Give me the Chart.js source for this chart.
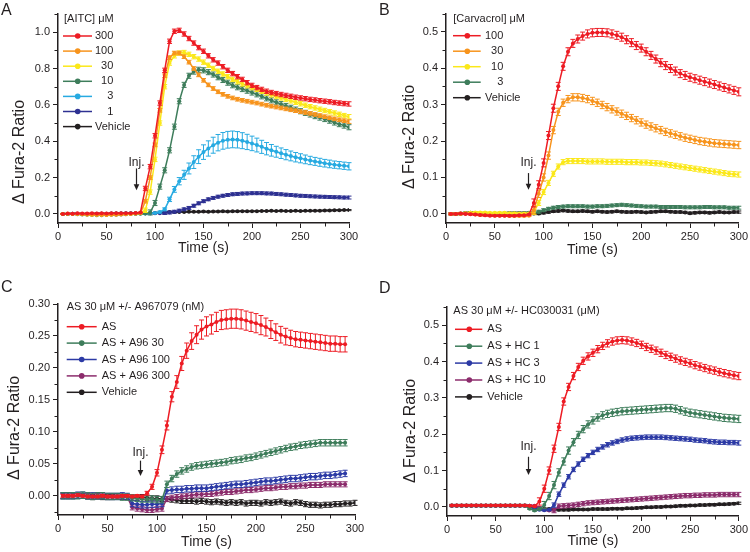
<!DOCTYPE html>
<html lang="en">
<head>
<meta charset="UTF-8">
<title>Fura-2 calcium responses</title>
<script src="https://cdn.jsdelivr.net/npm/chart.js"></script>
<style>
  body { margin: 0; background: #fff; }
  #wrap { position: relative; width: 750px; height: 552px; overflow: hidden; }
  .panel { position: absolute; width: 375px; height: 276px; }
  .letter { position: absolute; font: 16px Arial, "Liberation Sans", sans-serif; line-height: 16px; color: #231f20; }
</style>
</head>
<body>
<div id="wrap">
  <canvas class="panel" id="chartA" width="375" height="276" style="left:0;top:0"></canvas>
  <canvas class="panel" id="chartB" width="375" height="276" style="left:375px;top:0"></canvas>
  <canvas class="panel" id="chartC" width="375" height="276" style="left:0;top:276px"></canvas>
  <canvas class="panel" id="chartD" width="375" height="276" style="left:375px;top:276px"></canvas>
  <div class="letter" style="left:1px;top:1.5px">A</div>
  <div class="letter" style="left:379px;top:1.5px">B</div>
  <div class="letter" style="left:1px;top:278.5px">C</div>
  <div class="letter" style="left:379px;top:279.5px">D</div>
</div>

<script>
// sample times (s)
const times = [5,10,15,20,25,30,35,40,45,50,
  55,60,65,70,75,80,85,90,95,100,
  105,110,115,120,125,130,135,140,145,150,
  155,160,165,170,175,180,185,190,195,200,
  205,210,215,220,225,230,235,240,245,250,
  255,260,265,270,275,280,285,290,295,300];
const xTicks = [0, 50, 100, 150, 200, 250, 300];

// ---- Panel A: AITC (uM)
const aLabels = ['300', '100', '  30', '  10', '    3', '    1', 'Vehicle'];
const aYTicks = [0.0, 0.2, 0.4, 0.6, 0.8, 1.0];
const aitc300 = [0,0.002,0.001,0.003,0.002,0.002,0.003,0.002,0.003,0.002,
  0.003,0.004,0.003,0.004,0.004,0.005,0.008,0.14,0.26,0.43,
  0.61,0.79,0.95,1.005,1.01,0.99,0.965,0.94,0.915,0.895,
  0.87,0.848,0.83,0.81,0.79,0.772,0.755,0.74,0.722,0.707,
  0.695,0.685,0.675,0.668,0.662,0.657,0.652,0.647,0.642,0.638,
  0.634,0.63,0.627,0.623,0.62,0.617,0.613,0.61,0.607,0.605];
const aitc100 = [0,0.001,0,-0.001,-0.002,-0.003,-0.004,-0.005,-0.006,-0.006,
  -0.005,-0.004,-0.003,-0.002,0,0.002,0.004,0.07,0.2,0.38,
  0.57,0.76,0.86,0.885,0.885,0.865,0.835,0.8,0.765,0.735,
  0.71,0.69,0.672,0.658,0.647,0.638,0.631,0.625,0.62,0.615,
  0.61,0.604,0.598,0.593,0.588,0.583,0.578,0.573,0.568,0.563,
  0.558,0.553,0.547,0.541,0.535,0.529,0.523,0.518,0.513,0.508];
const aitc30 = [0,0.001,0,0,-0.002,-0.003,-0.004,-0.005,-0.005,-0.004,
  -0.003,-0.002,-0.001,0,0.001,0.002,0.003,0.02,0.12,0.3,
  0.5,0.7,0.83,0.87,0.885,0.888,0.878,0.865,0.852,0.835,
  0.818,0.8,0.785,0.77,0.755,0.74,0.727,0.715,0.705,0.695,
  0.685,0.675,0.665,0.655,0.646,0.638,0.63,0.622,0.614,0.606,
  0.598,0.59,0.583,0.576,0.569,0.562,0.555,0.548,0.541,0.535];
const aitc10 = [0,0,-0.001,-0.002,-0.003,-0.005,-0.006,-0.007,-0.007,-0.006,
  -0.005,-0.004,-0.003,-0.002,-0.001,0,0.001,0.002,0.008,0.06,
  0.15,0.24,0.35,0.48,0.62,0.71,0.76,0.783,0.793,0.79,
  0.78,0.767,0.752,0.737,0.722,0.708,0.697,0.687,0.678,0.668,
  0.658,0.647,0.636,0.625,0.614,0.604,0.594,0.584,0.574,0.565,
  0.556,0.547,0.538,0.53,0.522,0.513,0.503,0.494,0.486,0.477];
const aitc3 = [0,0,0,0.001,0,-0.001,-0.002,-0.002,-0.002,-0.001,
  0,0,0.001,0.001,0.002,0.002,0.002,0.002,0.003,0.005,
  0.01,0.025,0.08,0.135,0.18,0.215,0.25,0.285,0.315,0.34,
  0.36,0.378,0.392,0.402,0.408,0.41,0.408,0.403,0.396,0.388,
  0.379,0.369,0.359,0.35,0.342,0.334,0.326,0.319,0.312,0.306,
  0.3,0.294,0.289,0.284,0.279,0.275,0.271,0.268,0.265,0.262];
const aitc3Err = [0.002,0.002,0.002,0.002,0.002,0.002,0.002,0.002,0.002,0.002,
  0.002,0.002,0.002,0.002,0.002,0.002,0.002,0.002,0.003,0.003,
  0.005,0.008,0.012,0.016,0.02,0.025,0.03,0.035,0.038,0.04,
  0.042,0.044,0.045,0.046,0.046,0.046,0.045,0.044,0.042,0.04,
  0.038,0.036,0.034,0.032,0.03,0.029,0.028,0.027,0.026,0.025,
  0.024,0.023,0.022,0.022,0.021,0.021,0.02,0.02,0.02,0.02];
const aitc1 = [0,0,0.001,0,-0.001,-0.001,0,0,0.001,0.001,
  0.002,0.002,0.002,0.003,0.003,0.003,0.003,0.003,0.003,0.004,
  0.004,0.005,0.008,0.012,0.018,0.025,0.033,0.045,0.058,0.07,
  0.08,0.088,0.095,0.1,0.104,0.108,0.11,0.112,0.113,0.114,
  0.114,0.114,0.113,0.112,0.11,0.108,0.106,0.104,0.102,0.1,
  0.099,0.097,0.096,0.095,0.094,0.093,0.092,0.091,0.09,0.09];
const aitcVeh = [0,0,0.001,0,0,-0.001,0,0.001,0.001,0,
  0.001,0.002,0.002,0.002,0.002,0.003,0.003,0.003,0.004,0.005,
  0.007,0.009,0.01,0.01,0.011,0.011,0.012,0.012,0.012,0.013,
  0.012,0.013,0.013,0.014,0.013,0.014,0.014,0.015,0.014,0.015,
  0.015,0.016,0.016,0.017,0.016,0.017,0.016,0.016,0.017,0.016,
  0.017,0.017,0.018,0.018,0.019,0.019,0.02,0.02,0.021,0.021];

// ---- Panel B: carvacrol (uM)
const bLabels = ['100', '  30', '  10', '    3', 'Vehicle'];
const bYTicks = [0.0, 0.1, 0.2, 0.3, 0.4, 0.5];
const carv100 = [0,0,0.001,0,-0.001,-0.002,-0.003,-0.004,-0.005,-0.005,
  -0.005,-0.005,-0.005,-0.005,-0.004,-0.004,-0.002,0.03,0.08,0.14,
  0.215,0.29,0.35,0.405,0.445,0.468,0.48,0.488,0.494,0.497,
  0.498,0.498,0.497,0.494,0.49,0.485,0.478,0.47,0.462,0.455,
  0.445,0.435,0.425,0.415,0.407,0.399,0.392,0.385,0.38,0.375,
  0.371,0.367,0.363,0.359,0.355,0.351,0.347,0.343,0.339,0.335];
const carv30 = [0,0,0,0.001,0,-0.002,-0.003,-0.004,-0.004,-0.005,
  -0.005,-0.005,-0.006,-0.006,-0.006,-0.006,-0.005,0.01,0.055,0.1,
  0.16,0.23,0.28,0.305,0.315,0.32,0.32,0.318,0.315,0.31,
  0.305,0.299,0.293,0.287,0.281,0.275,0.269,0.263,0.257,0.251,
  0.245,0.24,0.235,0.23,0.225,0.221,0.217,0.213,0.209,0.206,
  0.203,0.2,0.198,0.196,0.194,0.193,0.192,0.191,0.19,0.189];
const carv10 = [0,0,0.001,0.002,0.003,0.004,0.004,0.004,0.003,0.003,
  0.003,0.003,0.002,0.002,0.001,0.001,0.001,0.005,0.03,0.06,
  0.085,0.11,0.13,0.142,0.145,0.145,0.145,0.145,0.144,0.144,
  0.144,0.144,0.143,0.143,0.143,0.143,0.142,0.142,0.142,0.141,
  0.141,0.14,0.139,0.138,0.136,0.134,0.132,0.13,0.128,0.126,
  0.124,0.122,0.12,0.118,0.116,0.114,0.112,0.11,0.109,0.108];
const carv3 = [0,0,0,0.001,0.001,0,0,0,0.001,0.001,
  0.001,0.002,0.002,0.002,0.002,0.002,0.003,0.003,0.006,0.01,
  0.014,0.017,0.019,0.02,0.021,0.021,0.021,0.021,0.02,0.02,
  0.021,0.021,0.022,0.023,0.024,0.025,0.024,0.023,0.022,0.021,
  0.02,0.02,0.02,0.019,0.019,0.019,0.019,0.019,0.018,0.018,
  0.018,0.018,0.019,0.019,0.018,0.018,0.018,0.017,0.017,0.017];
const carvVeh = [0,0,0.001,0.002,0.003,0.002,0.001,0.001,0,0,
  0.001,0.001,0.002,0.002,0.002,0.002,0.002,0.001,0.001,0.003,
  0.005,0.007,0.008,0.009,0.008,0.007,0.007,0.008,0.007,0.006,
  0.007,0.006,0.005,0.006,0.007,0.006,0.005,0.005,0.006,0.005,
  0.004,0.005,0.006,0.007,0.007,0.006,0.005,0.005,0.004,0.002,
  0.003,0.004,0.004,0.003,0.004,0.005,0.004,0.004,0.005,0.005];

// ---- Panel C: AS 30 uM +/- A967079 (nM)
const cLabels = ['AS', 'AS + A96 30', 'AS + A96 100', 'AS + A96 300', 'Vehicle'];
const cYTicks = [0.00, 0.05, 0.10, 0.15, 0.20, 0.25, 0.30];
const cAS = [0,0,0,0.001,0,-0.001,-0.001,-0.001,0,-0.001,
  -0.001,-0.001,0,0,-0.001,0,-0.001,0.004,0.014,0.036,
  0.072,0.11,0.155,0.178,0.207,0.227,0.242,0.252,0.26,0.265,
  0.268,0.272,0.275,0.276,0.277,0.277,0.276,0.274,0.272,0.27,
  0.267,0.264,0.26,0.256,0.252,0.249,0.247,0.245,0.244,0.243,
  0.242,0.241,0.24,0.239,0.238,0.238,0.237,0.237,null,null];
const cASErr = [0.002,0.002,0.002,0.002,0.002,0.002,0.002,0.002,0.002,0.002,
  0.002,0.002,0.002,0.002,0.002,0.002,0.002,0.003,0.004,0.005,
  0.006,0.007,0.008,0.01,0.011,0.012,0.013,0.014,0.015,0.015,
  0.015,0.015,0.015,0.015,0.015,0.015,0.015,0.015,0.015,0.015,
  0.015,0.014,0.014,0.013,0.013,0.013,0.012,0.012,0.012,0.012,
  0.012,0.012,0.012,0.012,0.012,0.012,0.012,0.012,null,null];
const cA96_30 = [0,0,0,0,0.001,0,-0.001,0,0,-0.001,
  -0.001,-0.001,-0.002,-0.002,-0.003,-0.004,-0.005,-0.005,-0.005,-0.006,
  -0.006,0.018,0.027,0.034,0.039,0.042,0.045,0.047,0.048,0.049,
  0.05,0.051,0.052,0.053,0.055,0.056,0.057,0.059,0.06,0.062,
  0.064,0.066,0.068,0.07,0.072,0.074,0.076,0.077,0.079,0.08,
  0.081,0.082,0.083,0.083,0.083,0.083,0.083,0.083,null,null];
const cA96_100 = [0,0,0,0.001,0.001,0,0,0,0,-0.001,
  -0.001,-0.001,0,-0.001,-0.012,-0.013,-0.014,-0.014,-0.013,-0.013,
  -0.012,0.008,0.009,0.01,0.01,0.011,0.011,0.012,0.012,0.012,
  0.013,0.014,0.015,0.016,0.017,0.018,0.018,0.019,0.02,0.021,
  0.022,0.023,0.023,0.024,0.025,0.026,0.027,0.027,0.028,0.029,
  0.03,0.03,0.031,0.032,0.032,0.033,0.034,0.035,null,null];
const cA96_300 = [0,0,0,0,0,0,-0.001,0,0,-0.001,
  -0.001,-0.001,-0.001,-0.002,-0.018,-0.02,-0.021,-0.022,-0.022,-0.021,
  -0.02,-0.005,-0.003,-0.002,-0.001,0,0.001,0.002,0.002,0.003,
  0.003,0.004,0.005,0.006,0.006,0.007,0.008,0.009,0.009,0.01,
  0.011,0.012,0.012,0.013,0.014,0.014,0.015,0.015,0.016,0.016,
  0.017,0.017,0.017,0.018,0.018,0.018,0.018,0.018,null,null];
const cVeh = [0,0.001,0,0,0,-0.001,-0.002,-0.001,-0.002,-0.002,
  -0.002,-0.001,-0.002,-0.002,-0.003,-0.003,-0.002,-0.003,-0.004,-0.004,
  -0.005,-0.005,-0.006,-0.007,-0.008,-0.008,-0.008,-0.009,-0.008,-0.009,
  -0.01,-0.009,-0.01,-0.011,-0.01,-0.011,-0.01,-0.012,-0.011,-0.011,
  -0.012,-0.01,-0.011,-0.01,-0.009,-0.011,-0.012,-0.01,-0.011,-0.013,
  -0.014,-0.014,-0.015,-0.014,-0.014,-0.013,-0.013,-0.012,-0.012,-0.011];

// ---- Panel D: AS 30 uM +/- HC030031 (uM)
const dLabels = ['AS', 'AS + HC 1', 'AS + HC 3', 'AS + HC 10', 'Vehicle'];
const dYTicks = [0.0, 0.1, 0.2, 0.3, 0.4, 0.5];
const dAS = [0.004,0.004,0.004,0.004,0.004,0.004,0.004,0.004,0.004,0.004,
  0.004,0.004,0.004,0.004,0.004,0.004,0.003,0.002,0.015,0.05,
  0.1,0.16,0.22,0.29,0.33,0.36,0.385,0.402,0.414,0.424,
  0.434,0.443,0.45,0.455,0.458,0.459,0.458,0.455,0.451,0.446,
  0.44,0.435,0.43,0.424,0.418,0.413,0.408,0.403,0.399,0.395,
  0.39,0.386,0.382,0.378,0.375,0.371,0.368,0.365,0.362,0.36];
const dHC1 = [0.003,0.003,0.003,0.003,0.003,0.003,0.003,0.003,0.003,0.003,
  0.003,0.003,0.003,0.003,0.003,0.003,-0.005,-0.01,-0.006,0.005,
  0.03,0.06,0.095,0.125,0.155,0.178,0.198,0.214,0.227,0.238,
  0.246,0.252,0.256,0.259,0.261,0.263,0.264,0.265,0.266,0.267,
  0.268,0.269,0.27,0.271,0.272,0.272,0.27,0.266,0.262,0.259,
  0.257,0.255,0.253,0.251,0.249,0.247,0.245,0.244,0.243,0.242];
const dHC3 = [0.003,0.003,0.003,0.003,0.003,0.003,0.003,0.003,0.003,0.003,
  0.003,0.003,0.003,0.003,0.003,0.003,0.003,-0.003,-0.008,-0.009,
  -0.008,0.005,0.035,0.06,0.083,0.103,0.118,0.131,0.141,0.15,
  0.158,0.165,0.171,0.176,0.18,0.184,0.187,0.189,0.19,0.191,
  0.192,0.192,0.192,0.192,0.191,0.19,0.189,0.188,0.187,0.186,
  0.184,0.183,0.182,0.18,0.179,0.178,0.178,0.177,0.177,0.176];
const dHC10 = [0.003,0.003,0.003,0.003,0.003,0.003,0.003,0.003,0.003,0.003,
  0.003,0.003,0.003,0.003,0.003,0.003,0.003,0.003,-0.002,-0.008,
  -0.01,-0.01,0.002,0.003,0.004,0.005,0.007,0.009,0.011,0.012,
  0.013,0.014,0.015,0.016,0.017,0.018,0.019,0.02,0.021,0.022,
  0.023,0.024,0.025,0.026,0.027,0.028,0.029,0.03,0.031,0.031,
  0.032,0.032,0.033,0.033,0.033,0.034,0.034,0.034,0.034,0.034];
const dVeh = [0.004,0.004,0.004,0.004,0.004,0.004,0.004,0.004,0.004,0.004,
  0.004,0.004,0.004,0.004,0.004,0.004,0.001,-0.003,-0.005,-0.006,
  -0.006,-0.007,-0.008,-0.008,-0.008,-0.007,-0.007,-0.007,-0.007,-0.006,
  -0.006,-0.006,-0.006,-0.005,-0.005,-0.005,-0.004,-0.004,-0.003,-0.002,
  -0.001,-0.001,0,0,0.001,0.001,0.002,0.003,0.003,0.004,
  0.004,0.005,0.005,0.006,0.006,0.007,0.007,0.008,0.009,0.01];

const INK = '#231f20';
const FONT = 'Arial, "Liberation Sans", Helvetica, sans-serif';
const RED = '#ed1c24', ORANGE = '#f7941d', YELLOW = '#fbe81a', GREEN = '#3e7d5b',
      CYAN = '#27aae1', NAVY = '#2e3192', BLUE = '#2c3aa5', PURPLE = '#8c2c6c', BLACK = '#231f20';

Chart.defaults.font.family = FONT;
Chart.defaults.color = INK;

// SEM bars, drawn right after each dataset.
// err is either an array (one per point) or {pre, post} split at the injection time
const errorBars = {
  id: 'errorBars',
  afterDatasetDraw(chart, args) {
    const ds = chart.data.datasets[args.index];
    if (ds.err == null) return;
    const y = chart.scales.y, ctx = chart.ctx;
    ctx.save();
    ctx.strokeStyle = ds.borderColor;
    ctx.lineWidth = 1;
    ctx.beginPath();
    args.meta.data.forEach((pt, i) => {
      const d = ds.data[i];
      if (d.y == null) return;
      const e = Array.isArray(ds.err) ? ds.err[i] : (d.x < ds.err.onset ? ds.err.pre : ds.err.post);
      if (!e) return;
      const top = y.getPixelForValue(d.y + e), bot = y.getPixelForValue(d.y - e);
      ctx.moveTo(pt.x, top); ctx.lineTo(pt.x, bot);
      ctx.moveTo(pt.x - 2.5, top); ctx.lineTo(pt.x + 2.5, top);
      ctx.moveTo(pt.x - 2.5, bot); ctx.lineTo(pt.x + 2.5, bot);
    });
    ctx.stroke();
    ctx.restore();
  }
};

// short minor ticks half way between labelled ones
const minorTicks = {
  id: 'minorTicks',
  afterDraw(chart, args, o) {
    const { ctx, chartArea, scales: { x, y } } = chart;
    ctx.save();
    ctx.strokeStyle = INK;
    ctx.lineWidth = 1;
    ctx.beginPath();
    for (let k = Math.ceil(x.min / o.x - 1e-9); k * o.x <= x.max + 1e-9; k++) {
      if (k % 2 === 0) continue;
      const px = Math.round(x.getPixelForValue(k * o.x)) + 0.5;
      ctx.moveTo(px, chartArea.bottom); ctx.lineTo(px, chartArea.bottom + 3.5);
    }
    for (let k = Math.ceil(y.min / o.y - 1e-9); k * o.y <= y.max + 1e-9; k++) {
      if (k % 2 === 0) continue;
      const py = Math.round(y.getPixelForValue(k * o.y)) + 0.5;
      ctx.moveTo(chartArea.left, py); ctx.lineTo(chartArea.left - 3.5, py);
    }
    ctx.stroke();
    ctx.restore();
  }
};

const sketchLegend = {
  id: 'sketchLegend',
  afterDraw(chart, args, o) {
    const ctx = chart.ctx;
    ctx.save();
    ctx.font = '11px ' + FONT;
    ctx.textBaseline = 'middle';
    ctx.textAlign = 'left';
    ctx.fillStyle = INK;
    ctx.fillText(o.title, o.titleX, o.titleY);
    chart.data.datasets.forEach((ds, i) => {
      const y = o.rowY + i * o.step;
      ctx.strokeStyle = ds.borderColor;
      ctx.lineWidth = 1.5;
      ctx.beginPath(); ctx.moveTo(o.x0, y); ctx.lineTo(o.x1, y); ctx.stroke();
      ctx.fillStyle = ds.borderColor;
      ctx.beginPath(); ctx.arc(o.dot, y, 2.8, 0, Math.PI * 2); ctx.fill();
      ctx.fillStyle = INK;
      ctx.fillText(ds.label, o.tx, y);
    });
    ctx.restore();
  }
};

// "Inj." label with a down arrow, placed in data units
const injMark = {
  id: 'injMark',
  afterDraw(chart, args, o) {
    const { ctx, scales: { x, y } } = chart;
    const px = Math.round(x.getPixelForValue(o.t)) + 0.5;
    const y0 = y.getPixelForValue(o.from), y1 = y.getPixelForValue(o.to);
    ctx.save();
    ctx.font = '12px ' + FONT;
    ctx.fillStyle = INK;
    ctx.textAlign = 'center';
    ctx.textBaseline = 'middle';
    ctx.fillText('Inj.', px, y.getPixelForValue(o.textY));
    ctx.strokeStyle = INK;
    ctx.lineWidth = 1.2;
    ctx.beginPath(); ctx.moveTo(px, y0); ctx.lineTo(px, y1 - 4); ctx.stroke();
    ctx.beginPath();
    ctx.moveTo(px - 2.8, y1 - 6); ctx.lineTo(px + 2.8, y1 - 6); ctx.lineTo(px, y1);
    ctx.closePath(); ctx.fill();
    ctx.restore();
  }
};

const yTitle = {
  id: 'yTitle',
  afterDraw(chart, args, o) {
    const ctx = chart.ctx;
    ctx.save();
    ctx.translate(o.x, o.y);
    ctx.rotate(-Math.PI / 2);
    ctx.font = '16px ' + FONT;
    ctx.fillStyle = INK;
    ctx.textAlign = 'center';
    ctx.textBaseline = 'middle';
    ctx.fillText('\u0394 Fura-2 Ratio', 0, 0);
    ctx.restore();
  }
};

function makeChart(id, p) {
  const datasets = p.series.map(s => ({
    label: s.label,
    data: times.map((t, i) => ({ x: t, y: s.values[i] })),
    err: s.err,
    borderColor: s.color,
    backgroundColor: s.color,
    pointBackgroundColor: s.color,
    pointBorderColor: s.color,
    pointRadius: 2,
    pointBorderWidth: 0,
    borderWidth: 1.5,
    tension: 0
  }));
  return new Chart(document.getElementById(id), {
    type: 'line',
    data: { datasets },
    options: {
      responsive: false,
      animation: false,
      devicePixelRatio: 1,
      layout: { padding: p.pad },
      plugins: {
        legend: { display: false },
        tooltip: { enabled: false },
        sketchLegend: p.legend,
        injMark: p.inj,
        yTitle: p.yTitle,
        minorTicks: { x: 25, y: p.yMinor }
      },
      scales: {
        x: {
          type: 'linear',
          min: 0, max: 300,
          afterBuildTicks: s => { s.ticks = xTicks.map(v => ({ value: v })); },
          ticks: { font: { size: 11 }, color: INK, padding: 2, maxRotation: 0, autoSkip: false },
          grid: { drawOnChartArea: false, tickLength: 5, color: INK, lineWidth: 1 },
          border: { color: INK, width: 1.5 },
          title: { display: true, text: 'Time (s)', font: { size: 14 }, color: INK,
                   padding: { top: 0, bottom: p.xTitlePad } },
          afterFit: s => { s.height = p.xHeight; }
        },
        y: {
          type: 'linear',
          min: p.yMin, max: p.yMax,
          afterBuildTicks: s => { s.ticks = p.yTicks.map(v => ({ value: v })); },
          ticks: { font: { size: 11 }, color: INK, padding: 3, autoSkip: false,
                   callback: v => v.toFixed(p.digits) },
          grid: { drawOnChartArea: false, tickLength: 5, color: INK, lineWidth: 1 },
          border: { color: INK, width: 1.5 },
          afterFit: s => { s.width = p.yWidth; }
        }
      }
    },
    plugins: [errorBars, minorTicks, sketchLegend, injMark, yTitle]
  });
}

makeChart('chartA', {
  series: [
    { label: aLabels[0], values: aitc300, err: { onset: 90, pre: 0.002, post: 0.012 }, color: RED },
    { label: aLabels[1], values: aitc100, err: { onset: 90, pre: 0.002, post: 0.01 }, color: ORANGE },
    { label: aLabels[2], values: aitc30, err: { onset: 90, pre: 0.002, post: 0.012 }, color: YELLOW },
    { label: aLabels[3], values: aitc10, err: { onset: 95, pre: 0.002, post: 0.014 }, color: GREEN },
    { label: aLabels[4], values: aitc3, err: aitc3Err, color: CYAN },
    { label: aLabels[5], values: aitc1, err: { onset: 110, pre: 0.002, post: 0.008 }, color: NAVY },
    { label: aLabels[6], values: aitcVeh, err: { onset: 0, pre: 0.002, post: 0.003 }, color: BLACK }
  ],
  yMin: -0.05, yMax: 1.1, yTicks: aYTicks, yMinor: 0.1, digits: 1,
  pad: { top: 14, right: 26, left: 0, bottom: 0 },
  yWidth: 58, xHeight: 53, xTitlePad: 19,
  yTitle: { x: 20, y: 152 },
  legend: { title: '[AITC] \u03bcM', titleX: 64, titleY: 19, rowY: 36, step: 15.1,
            x0: 63, x1: 92, dot: 77.7, tx: 95 },
  inj: { t: 80.5, textY: 0.283, from: 0.25, to: 0.13 }
});

makeChart('chartB', {
  series: [
    { label: bLabels[0], values: carv100, err: { onset: 90, pre: 0.002, post: 0.011 }, color: RED },
    { label: bLabels[1], values: carv30, err: { onset: 90, pre: 0.002, post: 0.01 }, color: ORANGE },
    { label: bLabels[2], values: carv10, err: { onset: 90, pre: 0.002, post: 0.007 }, color: YELLOW },
    { label: bLabels[3], values: carv3, err: { onset: 90, pre: 0.002, post: 0.004 }, color: GREEN },
    { label: bLabels[4], values: carvVeh, err: { onset: 0, pre: 0.002, post: 0.003 }, color: BLACK }
  ],
  yMin: -0.025, yMax: 0.55, yTicks: bYTicks, yMinor: 0.05, digits: 1,
  pad: { top: 13.5, right: 11, left: 0, bottom: 0 },
  yWidth: 71, xHeight: 53, xTitlePad: 17,
  yTitle: { x: 35, y: 137 },
  legend: { title: '[Carvacrol] \u03bcM', titleX: 78.3, titleY: 19, rowY: 35.7, step: 15.5,
            x0: 78, x1: 105.7, dot: 92.3, tx: 110 },
  inj: { t: 83.5, textY: 0.141, from: 0.112, to: 0.066 }
});

makeChart('chartC', {
  series: [
    { label: cLabels[0], values: cAS, err: cASErr, color: RED },
    { label: cLabels[1], values: cA96_30, err: { onset: 0, pre: 0.003, post: 0.005 }, color: GREEN },
    { label: cLabels[2], values: cA96_100, err: { onset: 0, pre: 0.003, post: 0.005 }, color: BLUE },
    { label: cLabels[3], values: cA96_300, err: { onset: 0, pre: 0.003, post: 0.004 }, color: PURPLE },
    { label: cLabels[4], values: cVeh, err: { onset: 0, pre: 0.003, post: 0.004 }, color: BLACK }
  ],
  yMin: -0.03, yMax: 0.30, yTicks: cYTicks, yMinor: 0.025, digits: 2,
  pad: { top: 28, right: 20, left: 0, bottom: 0 },
  yWidth: 58, xHeight: 37, xTitlePad: 1,
  yTitle: { x: 15, y: 152 },
  legend: { title: 'AS 30 \u03bcM +/- A967079 (nM)', titleX: 66.7, titleY: 31, rowY: 50.7, step: 16.4,
            x0: 66.7, x1: 96.7, dot: 81.7, tx: 101.7 },
  inj: { t: 82.5, textY: 0.068, from: 0.055, to: 0.031 }
});

makeChart('chartD', {
  series: [
    { label: dLabels[0], values: dAS, err: { onset: 95, pre: 0.002, post: 0.01 }, color: RED },
    { label: dLabels[1], values: dHC1, err: { onset: 100, pre: 0.002, post: 0.01 }, color: GREEN },
    { label: dLabels[2], values: dHC3, err: { onset: 110, pre: 0.002, post: 0.006 }, color: BLUE },
    { label: dLabels[3], values: dHC10, err: { onset: 110, pre: 0.002, post: 0.006 }, color: PURPLE },
    { label: dLabels[4], values: dVeh, err: { onset: 0, pre: 0.002, post: 0.003 }, color: BLACK }
  ],
  yMin: -0.025, yMax: 0.55, yTicks: dYTicks, yMinor: 0.05, digits: 1,
  pad: { top: 31, right: 10, left: 0, bottom: 0 },
  yWidth: 72, xHeight: 36, xTitlePad: 2,
  yTitle: { x: 36, y: 155 },
  legend: { title: 'AS 30 \u03bcM +/- HC030031 (\u03bcM)', titleX: 78.3, titleY: 35, rowY: 53.3, step: 16.9,
            x0: 80, x1: 107.3, dot: 94.3, tx: 112.3 },
  inj: { t: 83.2, textY: 0.166, from: 0.138, to: 0.088 }
});
</script>
</body>
</html>
